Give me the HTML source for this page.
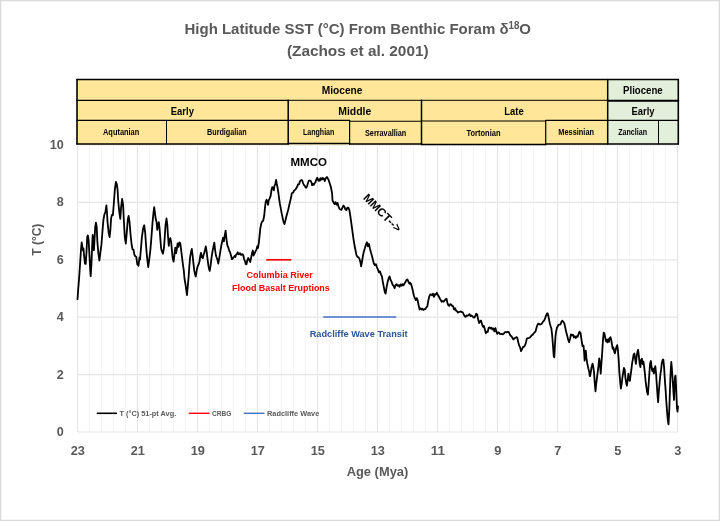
<!DOCTYPE html><html><head><meta charset="utf-8"><title>High Latitude SST</title>
<style>html,body{margin:0;padding:0;background:#fff;overflow:hidden}svg{display:block;will-change:transform}text{font-family:"Liberation Sans",sans-serif;font-weight:bold}</style></head><body>
<svg width="720" height="521" viewBox="0 0 720 521">
<rect x="0" y="0" width="720" height="521" fill="#fff"/>
<rect x="0.5" y="0.5" width="719" height="520" fill="none" stroke="#d9d9d9" stroke-width="1.5"/>
<path d="M89.5,146V432M101.5,146V432M113.5,146V432M125.5,146V432M149.5,146V432M161.5,146V432M173.5,146V432M185.5,146V432M209.5,146V432M221.5,146V432M233.5,146V432M245.5,146V432M269.5,146V432M281.5,146V432M293.5,146V432M305.5,146V432M329.5,146V432M341.5,146V432M353.5,146V432M365.5,146V432M389.5,146V432M401.5,146V432M413.5,146V432M425.5,146V432M449.5,146V432M461.5,146V432M473.5,146V432M485.5,146V432M509.5,146V432M521.5,146V432M533.5,146V432M545.5,146V432M569.5,146V432M581.5,146V432M593.5,146V432M605.5,146V432M629.5,146V432M641.5,146V432M653.5,146V432M665.5,146V432" stroke="#f5f5f5" stroke-width="1.1" fill="none"/>
<path d="M77.5,146V432M137.5,146V432M197.5,146V432M257.5,146V432M317.5,146V432M377.5,146V432M437.5,146V432M497.5,146V432M557.5,146V432M617.5,146V432M677.5,146V432M78,432.0H678M78,374.6H678M78,317.2H678M78,259.8H678M78,202.4H678M78,145.0H678" stroke="#e5e5e5" stroke-width="1.2" fill="none"/>
<rect x="77" y="79.5" width="530.70" height="65.10" fill="#FFE699"/>
<rect x="607.7" y="79.5" width="70.60" height="64.50" fill="#E2EFDA"/>
<path d="M77,79.5L678.3,79.5" stroke="#000" stroke-width="1.5" stroke-linecap="round" fill="none"/>
<path d="M77,79.5L77,144" stroke="#000" stroke-width="1.6" stroke-linecap="round" fill="none"/>
<path d="M678.3,79.5L678.3,144" stroke="#000" stroke-width="1.6" stroke-linecap="round" fill="none"/>
<path d="M607.7,79.5L607.7,144" stroke="#000" stroke-width="1.5" stroke-linecap="round" fill="none"/>
<path d="M77,144L288.2,144" stroke="#000" stroke-width="1.6" stroke-linecap="round" fill="none"/>
<path d="M288.2,143.6L349.6,143.6" stroke="#000" stroke-width="1.5" stroke-linecap="round" fill="none"/>
<path d="M349.6,144L421.5,144" stroke="#000" stroke-width="1.5" stroke-linecap="round" fill="none"/>
<path d="M421.5,144.6L545.7,144.6" stroke="#000" stroke-width="1.5" stroke-linecap="round" fill="none"/>
<path d="M545.7,144L678.3,144" stroke="#000" stroke-width="1.5" stroke-linecap="round" fill="none"/>
<path d="M77,100.3L288.2,100.3" stroke="#000" stroke-width="1.2" stroke-linecap="round" fill="none"/>
<path d="M288.2,100.3L607.7,100.3" stroke="#000" stroke-width="1.0" stroke-linecap="round" fill="none"/>
<path d="M607.7,100.7L678.3,100.7" stroke="#000" stroke-width="1.9" stroke-linecap="round" fill="none"/>
<path d="M77,120.4L349.6,120.4" stroke="#000" stroke-width="1.1" stroke-linecap="round" fill="none"/>
<path d="M349.6,121.3L421.5,121.3" stroke="#000" stroke-width="1.1" stroke-linecap="round" fill="none"/>
<path d="M421.5,121.0L545.7,121.0" stroke="#000" stroke-width="1.1" stroke-linecap="round" fill="none"/>
<path d="M545.7,120.4L678.3,120.4" stroke="#000" stroke-width="1.1" stroke-linecap="round" fill="none"/>
<path d="M166.5,120.4L166.5,144" stroke="#000" stroke-width="1.0" stroke-linecap="round" fill="none"/>
<path d="M288.2,100.3L288.2,144" stroke="#000" stroke-width="1.5" stroke-linecap="round" fill="none"/>
<path d="M349.6,120.6L349.6,144" stroke="#000" stroke-width="1.2" stroke-linecap="round" fill="none"/>
<path d="M421.5,100.3L421.5,144.6" stroke="#000" stroke-width="1.5" stroke-linecap="round" fill="none"/>
<path d="M545.7,120.6L545.7,144.6" stroke="#000" stroke-width="1.2" stroke-linecap="round" fill="none"/>
<path d="M658.5,120.4L658.5,144" stroke="#000" stroke-width="1.0" stroke-linecap="round" fill="none"/>
<text x="321.75" y="94.3" font-size="10.9" fill="#000" textLength="40.75" lengthAdjust="spacingAndGlyphs">Miocene</text>
<text x="623" y="94.4" font-size="10.9" fill="#000" textLength="39.75" lengthAdjust="spacingAndGlyphs">Pliocene</text>
<text x="170.75" y="115" font-size="10.9" fill="#000" textLength="23.15" lengthAdjust="spacingAndGlyphs">Early</text>
<text x="338.25" y="115" font-size="10.9" fill="#000" textLength="33.00" lengthAdjust="spacingAndGlyphs">Middle</text>
<text x="504.25" y="115" font-size="10.9" fill="#000" textLength="19.50" lengthAdjust="spacingAndGlyphs">Late</text>
<text x="631.5" y="115" font-size="10.9" fill="#000" textLength="23.00" lengthAdjust="spacingAndGlyphs">Early</text>
<text x="103" y="135" font-size="8.4" fill="#000" textLength="36.25" lengthAdjust="spacingAndGlyphs">Aqutanian</text>
<text x="207" y="135" font-size="8.4" fill="#000" textLength="39.75" lengthAdjust="spacingAndGlyphs">Burdigalian</text>
<text x="302.9" y="135" font-size="8.4" fill="#000" textLength="31.50" lengthAdjust="spacingAndGlyphs">Langhian</text>
<text x="365" y="135.75" font-size="8.4" fill="#000" textLength="41.25" lengthAdjust="spacingAndGlyphs">Serravallian</text>
<text x="466.5" y="135.75" font-size="8.4" fill="#000" textLength="34.00" lengthAdjust="spacingAndGlyphs">Tortonian</text>
<text x="558.3" y="135" font-size="8.4" fill="#000" textLength="35.70" lengthAdjust="spacingAndGlyphs">Messinian</text>
<text x="618.25" y="135" font-size="8.4" fill="#000" textLength="28.75" lengthAdjust="spacingAndGlyphs">Zanclian</text>
<text x="184.5" y="34.3" font-size="15.4" fill="#595959" textLength="346.5" lengthAdjust="spacingAndGlyphs">High Latitude SST (°C) From Benthic Foram δ<tspan font-size="10" dy="-5.2">18</tspan><tspan dy="5.2">O</tspan></text>
<text x="286.9" y="56.2" font-size="15.4" fill="#595959" textLength="141.70" lengthAdjust="spacingAndGlyphs">(Zachos et al. 2001)</text>
<text x="56.8" y="435.9" font-size="12.7" fill="#595959" textLength="7.00" lengthAdjust="spacingAndGlyphs">0</text>
<text x="56.8" y="378.5" font-size="12.7" fill="#595959" textLength="7.00" lengthAdjust="spacingAndGlyphs">2</text>
<text x="56.8" y="321.1" font-size="12.7" fill="#595959" textLength="7.00" lengthAdjust="spacingAndGlyphs">4</text>
<text x="56.8" y="263.7" font-size="12.7" fill="#595959" textLength="7.00" lengthAdjust="spacingAndGlyphs">6</text>
<text x="56.8" y="206.3" font-size="12.7" fill="#595959" textLength="7.00" lengthAdjust="spacingAndGlyphs">8</text>
<text x="49.8" y="148.9" font-size="12.7" fill="#595959" textLength="14.00" lengthAdjust="spacingAndGlyphs">10</text>
<text x="70.7" y="454.9" font-size="12.7" fill="#595959" textLength="14.20" lengthAdjust="spacingAndGlyphs">23</text>
<text x="130.70000000000002" y="454.9" font-size="12.7" fill="#595959" textLength="14.20" lengthAdjust="spacingAndGlyphs">21</text>
<text x="190.70000000000002" y="454.9" font-size="12.7" fill="#595959" textLength="14.20" lengthAdjust="spacingAndGlyphs">19</text>
<text x="250.70000000000002" y="454.9" font-size="12.7" fill="#595959" textLength="14.20" lengthAdjust="spacingAndGlyphs">17</text>
<text x="310.7" y="454.9" font-size="12.7" fill="#595959" textLength="14.20" lengthAdjust="spacingAndGlyphs">15</text>
<text x="370.7" y="454.9" font-size="12.7" fill="#595959" textLength="14.20" lengthAdjust="spacingAndGlyphs">13</text>
<text x="430.7" y="454.9" font-size="12.7" fill="#595959" textLength="14.20" lengthAdjust="spacingAndGlyphs">11</text>
<text x="494.25" y="454.9" font-size="12.7" fill="#595959" textLength="7.10" lengthAdjust="spacingAndGlyphs">9</text>
<text x="554.25" y="454.9" font-size="12.7" fill="#595959" textLength="7.10" lengthAdjust="spacingAndGlyphs">7</text>
<text x="614.25" y="454.9" font-size="12.7" fill="#595959" textLength="7.10" lengthAdjust="spacingAndGlyphs">5</text>
<text x="674.25" y="454.9" font-size="12.7" fill="#595959" textLength="7.10" lengthAdjust="spacingAndGlyphs">3</text>
<text x="346.7" y="476.4" font-size="12.8" fill="#595959" textLength="61.60" lengthAdjust="spacingAndGlyphs">Age (Mya)</text>
<text transform="translate(40.7,255.7) rotate(-90)" x="0" y="0" font-size="12.6" fill="#595959" textLength="32" lengthAdjust="spacingAndGlyphs">T (°C)</text>
<path d="M77.5,299.1 L78.2,289.3 L79.0,279.7 L80.0,265.0 L81.0,249.7 L81.7,242.3 L82.5,247.3 L83.0,250.7 L83.5,248.5 L84.0,254.8 L85.0,263.7 L85.7,263.9 L86.5,252.1 L87.2,237.0 L87.9,235.5 L88.7,241.2 L89.4,254.4 L90.2,270.1 L90.7,276.3 L91.4,264.8 L92.2,244.9 L92.7,235.0 L93.4,241.9 L93.9,250.3 L94.4,241.9 L95.2,227.1 L95.9,222.6 L96.7,226.9 L97.4,242.2 L98.4,253.4 L99.4,260.5 L100.4,252.3 L101.4,244.9 L102.4,232.3 L103.4,220.0 L104.4,214.3 L105.4,212.2 L106.4,205.3 L106.9,211.5 L107.6,222.6 L108.6,232.5 L109.6,237.1 L110.4,229.6 L111.1,218.4 L111.9,215.0 L112.9,215.1 L113.9,202.3 L114.9,189.0 L115.9,181.9 L116.8,184.1 L117.6,190.2 L118.3,202.0 L119.3,212.1 L120.3,218.9 L121.1,207.4 L122.1,199.0 L123.1,204.8 L123.8,219.5 L124.8,237.4 L125.8,243.7 L126.8,232.1 L127.8,219.5 L128.6,216.0 L129.6,222.7 L130.6,235.0 L131.6,244.5 L132.6,249.5 L133.6,249.9 L134.3,254.4 L135.3,256.2 L136.3,257.0 L137.3,264.3 L137.9,265.0 L138.5,265.7 L139.5,257.4 L140.0,259.6 L141.0,248.1 L141.9,237.1 L142.5,233.0 L143.1,228.6 L143.6,226.5 L144.2,225.3 L145.2,232.9 L146.1,245.9 L146.7,253.3 L147.3,259.3 L148.2,267.1 L149.2,259.8 L149.8,254.9 L150.4,249.6 L150.9,243.9 L151.5,236.2 L152.5,222.8 L153.4,213.7 L154.2,207.2 L155.0,213.3 L155.7,218.8 L156.5,221.7 L157.3,229.8 L158.0,225.7 L158.8,222.2 L159.6,228.7 L160.3,238.4 L161.1,248.3 L161.9,251.4 L162.5,252.5 L163.0,253.7 L164.0,247.7 L164.8,236.2 L165.5,225.3 L166.5,218.5 L167.3,224.7 L168.0,236.2 L168.8,245.9 L169.4,239.7 L170.3,238.1 L171.1,241.6 L171.9,250.2 L172.6,257.7 L173.6,261.7 L174.6,253.4 L175.3,247.6 L176.1,253.2 L176.8,249.7 L177.6,243.4 L178.4,246.8 L179.3,242.5 L180.3,243.3 L181.1,249.7 L181.8,255.4 L182.8,263.5 L183.8,270.7 L184.5,278.5 L185.5,284.5 L186.3,290.5 L187.0,295.1 L187.8,286.2 L188.6,277.1 L189.3,266.9 L190.1,257.2 L191.1,251.6 L191.8,248.9 L192.6,255.3 L193.4,263.1 L194.3,270.9 L195.0,274.0 L195.7,276.5 L196.6,270.9 L197.6,266.5 L198.5,264.7 L199.5,261.5 L200.3,255.8 L201.0,252.8 L201.8,257.3 L202.8,258.2 L203.7,254.3 L204.3,252.9 L204.9,250.1 L205.8,246.4 L206.6,251.4 L207.6,259.6 L208.5,266.2 L209.1,268.9 L209.7,270.9 L210.6,265.7 L211.6,257.2 L212.6,250.9 L213.5,246.3 L214.3,242.6 L215.1,250.1 L216.0,255.8 L216.6,257.5 L217.2,258.9 L217.7,260.7 L218.3,263.5 L219.3,257.9 L220.2,252.1 L221.2,246.0 L222.2,241.5 L223.1,237.7 L223.9,241.3 L224.6,236.6 L225.6,230.6 L226.4,238.5 L227.3,245.2 L228.3,247.6 L228.9,249.6 L229.4,251.3 L230.0,251.9 L231.0,255.6 L231.9,259.2 L232.5,258.9 L233.1,258.0 L233.6,257.1 L234.2,256.6 L234.8,256.0 L235.4,257.0 L235.9,254.9 L236.5,254.5 L237.1,253.5 L237.7,252.3 L238.3,253.8 L238.8,254.4 L239.4,253.8 L240.0,253.3 L240.6,253.8 L241.1,255.0 L241.7,254.5 L242.3,254.2 L242.9,254.6 L243.4,255.7 L244.0,258.7 L244.6,260.3 L245.2,261.9 L245.7,264.0 L246.5,264.3 L247.3,260.3 L248.2,258.0 L249.2,259.8 L250.2,262.0 L251.1,257.7 L252.1,252.8 L252.8,250.5 L253.6,255.5 L254.6,253.3 L255.5,251.3 L256.5,249.6 L257.3,246.1 L258.0,248.0 L258.8,243.1 L259.6,235.6 L260.3,228.4 L261.3,223.5 L262.2,221.4 L263.2,220.7 L264.2,215.8 L264.9,208.3 L265.7,201.8 L266.5,199.7 L267.2,201.5 L268.0,204.8 L268.8,200.1 L269.7,198.4 L270.7,195.6 L271.5,189.8 L272.2,187.2 L273.0,187.9 L273.8,190.3 L274.5,185.4 L275.3,184.2 L276.1,179.8 L276.8,184.0 L277.6,187.9 L278.4,193.0 L279.1,198.4 L279.9,203.9 L280.9,209.1 L281.8,213.9 L282.8,218.6 L283.7,222.3 L284.5,224.1 L285.3,221.0 L286.2,217.1 L287.2,213.4 L288.2,209.7 L289.1,205.7 L290.1,201.4 L291.0,197.8 L291.7,193.9 L292.2,192.8 L292.8,192.7 L293.3,192.4 L293.9,190.9 L294.4,190.4 L295.0,189.9 L295.6,189.4 L296.1,188.4 L296.7,187.6 L297.3,186.4 L297.9,184.5 L298.5,184.6 L299.2,184.1 L299.8,181.5 L300.4,180.8 L301.5,180.0 L302.3,180.5 L302.9,182.9 L303.5,184.1 L304.2,185.3 L304.8,185.9 L305.4,187.1 L306.2,187.8 L307.1,186.1 L307.9,183.3 L308.8,180.8 L309.8,180.5 L310.8,181.0 L311.7,183.1 L312.1,185.3 L312.9,183.9 L313.8,184.8 L314.6,183.1 L315.4,182.4 L316.0,180.4 L316.7,178.7 L317.3,177.7 L317.9,179.8 L318.5,180.7 L319.2,179.5 L319.8,180.7 L320.4,178.2 L321.0,179.7 L321.7,178.7 L322.3,178.0 L322.9,179.4 L323.5,178.3 L324.2,179.2 L324.8,181.1 L325.4,178.8 L326.0,178.2 L326.7,177.1 L327.3,177.4 L327.9,178.6 L328.5,179.7 L329.2,181.8 L330.0,184.2 L330.8,186.8 L331.5,190.3 L332.1,193.5 L332.5,200.3 L333.5,202.4 L334.5,204.0 L335.5,202.1 L336.5,204.7 L337.5,202.9 L338.4,206.0 L339.4,208.8 L340.4,209.5 L341.4,209.9 L342.4,207.7 L343.4,205.5 L344.4,206.8 L345.4,209.3 L346.4,210.2 L347.4,207.7 L348.4,207.7 L349.4,210.2 L350.4,216.5 L351.4,223.6 L352.4,231.2 L353.4,238.3 L354.4,244.8 L355.4,249.8 L356.4,254.9 L357.4,256.9 L358.4,257.2 L359.4,258.5 L360.4,262.2 L361.1,266.3 L361.9,262.3 L362.9,256.0 L363.9,251.2 L364.9,248.2 L365.9,244.8 L366.9,242.3 L367.9,246.4 L368.9,243.9 L369.9,248.4 L370.9,252.3 L371.9,255.7 L372.9,259.7 L373.9,263.8 L374.9,265.1 L375.9,264.2 L376.9,267.1 L377.9,269.5 L378.9,272.3 L379.9,271.3 L380.9,274.4 L381.9,276.2 L382.8,281.8 L383.8,287.0 L384.8,292.0 L385.6,293.6 L386.6,287.1 L387.6,282.1 L388.6,278.6 L389.6,276.4 L390.6,279.9 L391.6,281.9 L392.6,284.7 L393.6,285.8 L394.6,288.2 L395.6,285.2 L396.6,284.2 L397.6,285.9 L398.6,285.1 L399.6,286.7 L400.6,284.4 L401.6,285.7 L402.5,284.3 L403.5,285.3 L404.5,283.5 L405.5,282.0 L406.5,279.8 L407.5,279.5 L408.5,282.0 L409.5,283.7 L410.0,282.7 L411.0,283.8 L411.9,287.1 L412.9,291.0 L413.8,295.3 L414.8,298.2 L415.8,300.1 L416.7,298.1 L417.7,300.4 L418.6,305.3 L419.6,309.5 L420.6,308.2 L421.5,309.6 L422.5,308.7 L423.4,309.9 L424.4,309.2 L425.4,309.1 L426.3,307.4 L427.3,306.6 L428.2,301.3 L429.2,296.6 L430.1,294.7 L431.1,294.3 L432.1,295.3 L433.0,293.7 L434.0,296.9 L434.9,294.2 L435.9,294.6 L436.9,292.8 L437.8,294.7 L438.8,296.5 L439.8,298.5 L440.7,300.0 L441.7,301.7 L442.6,301.1 L443.6,301.7 L444.6,300.4 L445.5,299.5 L446.5,298.6 L447.4,302.9 L448.4,305.3 L449.4,305.9 L450.3,304.2 L451.3,304.6 L452.2,305.9 L453.2,306.4 L454.1,309.6 L455.1,308.3 L456.1,310.7 L457.0,311.3 L458.0,312.6 L458.9,311.9 L459.9,311.8 L460.9,311.4 L461.8,312.1 L462.8,312.4 L463.7,314.5 L464.7,316.3 L465.7,316.9 L466.6,315.4 L467.6,315.8 L468.5,315.1 L469.5,314.1 L470.5,316.0 L471.4,315.4 L472.4,316.2 L473.3,317.3 L474.3,317.7 L475.3,316.0 L476.2,313.8 L477.2,314.5 L478.1,319.3 L479.1,323.0 L480.1,321.2 L481.0,320.6 L482.0,323.9 L482.9,326.8 L483.9,325.9 L484.9,329.4 L485.8,333.3 L486.8,331.7 L487.7,332.0 L488.7,327.8 L489.6,327.4 L490.6,328.5 L491.6,327.8 L492.5,329.5 L493.5,328.4 L494.4,331.4 L495.4,328.1 L496.4,331.7 L497.3,333.8 L498.3,332.5 L499.2,332.7 L500.0,333.9 L501.0,334.1 L501.9,334.0 L502.9,334.3 L503.8,333.6 L504.8,332.3 L505.8,332.0 L506.7,332.3 L507.7,331.8 L508.6,331.8 L509.6,333.8 L510.6,335.9 L511.5,336.1 L512.5,338.1 L513.4,339.5 L514.4,338.2 L515.4,337.9 L516.3,337.1 L517.3,337.8 L518.2,342.1 L519.2,345.7 L520.1,347.4 L521.1,351.2 L522.1,349.0 L523.0,347.0 L524.0,346.8 L525.0,345.2 L525.9,342.6 L526.9,338.5 L527.8,338.2 L528.8,338.1 L529.8,337.5 L530.7,336.7 L531.7,335.1 L532.6,334.9 L533.6,333.3 L534.5,332.6 L535.5,331.4 L536.5,327.8 L537.4,325.0 L538.4,323.6 L539.4,324.3 L540.3,324.5 L541.3,324.0 L542.2,323.1 L543.2,321.4 L544.1,320.6 L545.1,318.4 L546.1,315.4 L547.0,313.6 L547.6,313.2 L548.4,316.1 L549.1,319.8 L549.9,323.8 L550.7,326.5 L551.4,328.5 L552.2,335.7 L553.0,346.0 L553.7,356.0 L554.3,357.4 L554.9,345.7 L555.5,335.9 L556.2,331.1 L557.0,327.5 L557.8,326.2 L558.5,324.9 L559.5,324.6 L560.5,324.4 L561.4,321.9 L562.4,320.7 L563.3,321.8 L564.3,323.2 L565.3,327.8 L566.2,332.1 L567.2,335.8 L568.1,339.4 L569.1,342.3 L570.1,338.5 L571.0,334.5 L572.0,335.3 L572.9,334.6 L573.9,337.5 L574.9,336.2 L575.8,338.0 L576.8,336.2 L577.7,336.8 L578.7,333.4 L579.6,331.7 L580.6,333.5 L581.6,340.5 L582.5,346.1 L583.5,345.5 L584.1,352.2 L584.6,360.6 L585.2,355.5 L585.8,350.6 L586.4,357.9 L587.3,363.6 L588.3,368.2 L589.2,371.9 L589.8,376.2 L590.0,376.2 L590.8,372.4 L591.5,367.4 L592.5,363.7 L593.2,366.3 L594.0,372.1 L594.7,382.1 L595.5,391.4 L596.2,383.9 L597.0,377.6 L597.7,372.0 L598.5,365.8 L599.2,358.4 L600.0,363.6 L600.7,373.7 L601.5,362.1 L602.2,352.4 L603.0,339.6 L603.7,332.6 L604.5,333.8 L605.2,337.5 L606.0,341.3 L606.7,339.8 L607.5,342.4 L608.2,339.2 L609.0,341.8 L609.7,338.1 L610.5,337.2 L611.2,339.6 L612.0,344.6 L612.7,348.9 L613.4,347.5 L614.2,351.4 L614.9,353.4 L615.7,349.8 L616.4,347.2 L617.2,345.2 L617.9,349.8 L618.7,360.0 L619.4,372.7 L620.2,382.2 L620.9,388.6 L621.7,383.8 L622.4,377.7 L623.2,372.3 L623.9,367.8 L624.7,369.5 L625.4,377.6 L626.2,383.2 L626.9,385.7 L627.7,379.9 L628.4,373.6 L629.1,380.0 L629.9,380.9 L630.6,375.1 L631.4,369.5 L632.1,363.4 L632.9,358.8 L633.6,354.6 L634.4,353.5 L635.1,358.8 L635.9,363.8 L636.6,357.2 L637.4,352.1 L638.1,349.8 L638.9,356.3 L639.6,363.5 L640.4,367.1 L641.1,360.0 L641.9,358.7 L642.6,364.0 L643.4,361.5 L644.1,366.4 L644.9,373.5 L645.6,381.3 L646.4,387.2 L647.1,392.1 L647.9,394.7 L648.6,385.2 L649.4,372.7 L650.1,363.4 L650.9,361.0 L651.6,367.3 L652.3,371.0 L653.1,368.5 L653.8,373.5 L654.6,369.6 L655.3,366.2 L656.1,373.8 L656.8,384.8 L657.6,396.3 L658.1,402.3 L658.8,392.0 L659.6,382.5 L660.3,375.1 L661.1,369.7 L661.8,363.2 L662.6,359.9 L663.3,359.4 L664.1,367.4 L664.8,379.0 L665.6,389.9 L666.3,401.3 L667.1,411.9 L667.8,419.8 L668.5,424.4 L669.3,409.4 L669.8,394.5 L670.3,380.0 L670.8,368.9 L671.3,362.0 L671.8,367.5 L672.5,377.0 L673.3,390.0 L674.0,399.9 L674.5,384.6 L675.0,377.1 L675.5,375.6 L676.0,384.8 L676.5,397.5 L677.0,408.4 L677.5,411.6 L678.0,406.4" fill="none" stroke="#000" stroke-width="1.8" stroke-linejoin="round" stroke-linecap="round"/>
<path d="M266.2,259.8H291.3" stroke="#FF0000" stroke-width="1.7" fill="none"/>
<path d="M323.2,317.1H396.3" stroke="#4472C4" stroke-width="1.5" fill="none"/>
<text x="290.5" y="166.25" font-size="11.6" fill="#000" textLength="36.50" lengthAdjust="spacingAndGlyphs">MMCO</text>
<text transform="translate(362.4,198.4) rotate(45)" x="0" y="0" font-size="11.4" fill="#000" textLength="48.5" lengthAdjust="spacingAndGlyphs">MMCT--&gt;</text>
<text x="246.4" y="278.2" font-size="9.8" fill="#FF0000" textLength="66.50" lengthAdjust="spacingAndGlyphs">Columbia River</text>
<text x="232.1" y="290.9" font-size="9.8" fill="#FF0000" textLength="97.70" lengthAdjust="spacingAndGlyphs">Flood Basalt Eruptions</text>
<text x="309.7" y="336.6" font-size="9.8" fill="#2F5597" textLength="97.90" lengthAdjust="spacingAndGlyphs">Radcliffe Wave Transit</text>
<path d="M96.75,413.3H117" stroke="#000" stroke-width="1.6"/>
<text x="119.5" y="416" font-size="8" fill="#595959" textLength="56.75" lengthAdjust="spacingAndGlyphs">T (°C) 51-pt Avg.</text>
<path d="M188.75,413.3H209.5" stroke="#FF0000" stroke-width="1.4"/>
<text x="212" y="416" font-size="8" fill="#595959" textLength="19.25" lengthAdjust="spacingAndGlyphs">CRBG</text>
<path d="M243.75,413.3H264.5" stroke="#4472C4" stroke-width="1.4"/>
<text x="267" y="416" font-size="8" fill="#595959" textLength="52.25" lengthAdjust="spacingAndGlyphs">Radcliffe Wave</text>
</svg></body></html>
